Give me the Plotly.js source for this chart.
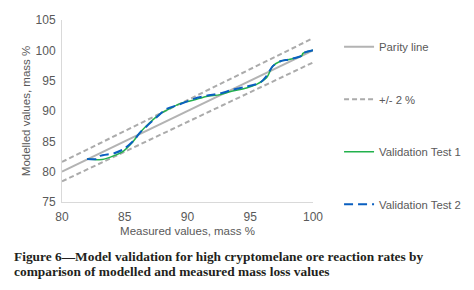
<!DOCTYPE html>
<html>
<head>
<meta charset="utf-8">
<script src="https://cdn.plot.ly/plotly-3.0.1.min.js"></script>
<style>html,body{margin:0;padding:0;background:#fff;}#chart{width:474px;height:290px;}</style>
</head>
<body>
<div id="chart"></div>
<script>
const parityX = [80, 100];
const parityY = [80, 100];
const bandX = [80, 100];
const bandUpper = [81.6, 102];
const bandLower = [78.4, 98];
const test1X = [82, 83.2, 84.1, 84.9, 85.6, 86.2, 87.0, 87.8, 88.6, 89.5, 90.5, 91.5, 92.6, 93.6, 94.7, 95.5, 96.3, 96.8, 97.4, 98.1, 99.1, 99.2, 100];
const test1Y = [82.1, 82.0, 82.6, 83.4, 84.8, 86.4, 88.1, 89.5, 90.4, 91.3, 91.8, 92.4, 92.7, 93.3, 93.8, 94.4, 95.5, 97.4, 98.2, 98.5, 99.1, 99.5, 100];
const test2X = [82, 82.8, 83.05, 84.1, 84.9, 85.7, 86.2, 86.75, 87.5, 88.3, 89.4, 90.5, 91.5, 92.6, 93.6, 94.7, 95.8, 96.3, 96.8, 97.4, 98.1, 99.1, 99.2, 100];
const test2Y = [82.1, 82.1, 82.6, 83.0, 83.7, 85.1, 86.4, 87.5, 88.9, 90.3, 91.1, 92.0, 92.5, 92.9, 93.5, 94.0, 94.7, 95.8, 97.4, 98.2, 98.5, 99.1, 99.5, 100];
const xTicks = [80, 85, 90, 95, 100];
const yTicks = [75, 80, 85, 90, 95, 100, 105];
const names = ["Parity line", "+/- 2 %", "Validation Test 1", "Validation Test 2"];
const caption = ["Figure 6—Model validation for high cryptomelane ore reaction rates by",
                 "comparison of modelled and measured mass loss values"];

const grey = "#595959";
const traces = [
  {x: parityX, y: parityY, mode: "lines", name: names[0], legendgroup: "a",
   line: {color: "#b3b3b3", width: 2}},
  {x: bandX, y: bandUpper, mode: "lines", name: names[1], legendgroup: "b",
   line: {color: "#ababab", width: 2, dash: "5px,3px"}},
  {x: bandX, y: bandLower, mode: "lines", name: names[1], legendgroup: "b", showlegend: false,
   line: {color: "#ababab", width: 2, dash: "5px,3px"}},
  {x: test1X, y: test1Y, mode: "lines", name: names[2], legendgroup: "c",
   line: {color: "#22b14c", width: 1.5, shape: "spline", smoothing: 0.8}},
  {x: test2X, y: test2Y, mode: "lines", name: names[3], legendgroup: "d",
   line: {color: "#0a5fc0", width: 2, dash: "9px,5px", shape: "spline", smoothing: 0.8}}
];
const capFont = {family: "Liberation Serif, Times New Roman, serif", size: 13.4, color: "#231f20"};
const layout = {
  width: 474, height: 290,
  margin: {l: 62, r: 161, t: 20, b: 88},
  paper_bgcolor: "#fff", plot_bgcolor: "#fff",
  font: {family: "Liberation Sans, Arial, sans-serif", size: 11, color: grey},
  xaxis: {range: [80, 100], tickvals: xTicks, showgrid: false, zeroline: false,
    showline: true, linecolor: "#d9d9d9", linewidth: 1, ticks: "outside", ticklen: 4,
    tickcolor: "rgba(0,0,0,0)", automargin: false,
    tickfont: {size: 12, color: grey},
    title: {text: "Measured values, mass %", font: {size: 11.5, color: grey}, standoff: 3}},
  yaxis: {range: [75, 105], tickvals: yTicks, showgrid: false, zeroline: false,
    showline: true, linecolor: "#d9d9d9", linewidth: 1, ticks: "outside", ticklen: 3,
    tickcolor: "rgba(0,0,0,0)", automargin: false,
    tickfont: {size: 12, color: grey},
    title: {text: "Modelled values, mass %", font: {size: 11.5, color: grey}, standoff: 2}},
  showlegend: true,
  legend: {xref: "container", yref: "container", x: 0.7153, xanchor: "left", y: 0.889, yanchor: "top",
    traceorder: "grouped", tracegroupgap: 33.5, maxheight: 280,
    font: {size: 11.3, color: grey}, bgcolor: "rgba(0,0,0,0)"},
  annotations: caption.map((t, i) => ({
    xref: "paper", yref: "paper", x: -0.198, y: i === 0 ? -0.3005 : -0.383,
    xanchor: "left", yanchor: "middle", align: "left", showarrow: false,
    text: "<b>" + t + "</b>", font: capFont
  }))
};
Plotly.newPlot("chart", traces, layout, {displayModeBar: false, staticPlot: true});
</script>
</body>
</html>
